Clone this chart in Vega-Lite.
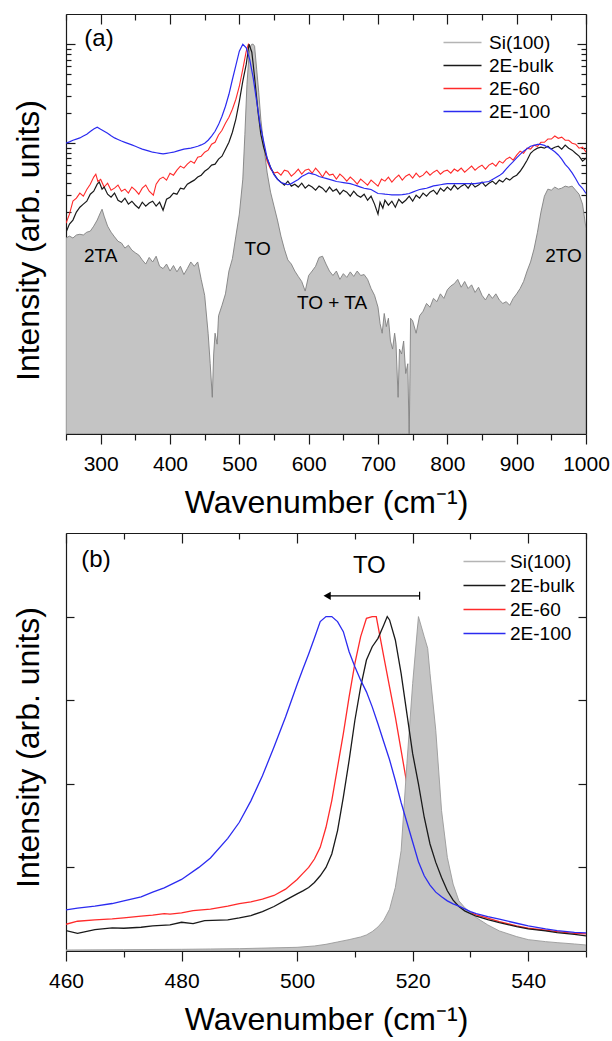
{
"$schema":"https://vega.github.io/schema/vega-lite/v6.json",
"background":"white",
"padding":{"left":12,"top":13,"right":5,"bottom":5},
"spacing":14,
"config":{
 "font":"Liberation Sans",
 "view":{"stroke":null},
 "mark":{"invalid":"filter"},
 "axis":{"grid":false,"zindex":1,"domainColor":"#1a1a1a","tickColor":"#1a1a1a","domainWidth":1.2,"tickWidth":1.2,"labelFont":"Liberation Sans","labelFontSize":21,"labelColor":"#000","titleFont":"Liberation Sans","titleFontSize":32,"titleFontWeight":"normal","titleColor":"#000"},
 "text":{"font":"Liberation Sans","color":"#000"}
},
"datasets":{
"a":[
{"x":250,"Si(100)":0.011,"2E-bulk":0.0126,"2E-60":0.0155,"2E-100":0.1},
{"x":255,"Si(100)":0.0115,"2E-bulk":0.0152,"2E-60":0.0192,"2E-100":0.103},
{"x":260,"Si(100)":0.011,"2E-bulk":0.0167,"2E-60":0.026,"2E-100":0.107},
{"x":265,"Si(100)":0.0118,"2E-bulk":0.0201,"2E-60":0.0278,"2E-100":0.11},
{"x":270,"Si(100)":0.012,"2E-bulk":0.0225,"2E-60":0.0313,"2E-100":0.113},
{"x":275,"Si(100)":0.0118,"2E-bulk":0.0242,"2E-60":0.0291,"2E-100":0.118},
{"x":280,"Si(100)":0.0126,"2E-bulk":0.0259,"2E-60":0.034,"2E-100":0.123},
{"x":285,"Si(100)":0.0129,"2E-bulk":0.0305,"2E-60":0.0385,"2E-100":0.131},
{"x":290,"Si(100)":0.0145,"2E-bulk":0.0327,"2E-60":0.0454,"2E-100":0.139},
{"x":293,"2E-60":0.0486},
{"x":295,"Si(100)":0.0167,"2E-bulk":0.0385,"2E-100":0.145},
{"x":296,"2E-60":0.041},
{"x":298,"2E-bulk":0.0404},
{"x":300,"Si(100)":0.0201,"2E-60":0.043,"2E-100":0.138},
{"x":302,"Si(100)":0.0215,"2E-bulk":0.0343},
{"x":305,"Si(100)":0.0183,"2E-bulk":0.036,"2E-60":0.036,"2E-100":0.132},
{"x":310,"Si(100)":0.0145,"2E-bulk":0.0305,"2E-60":0.0394,"2E-100":0.126},
{"x":315,"Si(100)":0.0126,"2E-bulk":0.0284,"2E-60":0.0335,"2E-100":0.119},
{"x":320,"Si(100)":0.0113,"2E-bulk":0.0313,"2E-60":0.0351,"2E-100":0.113},
{"x":325,"Si(100)":0.0102,"2E-bulk":0.0265,"2E-60":0.0377,"2E-100":0.109},
{"x":330,"Si(100)":0.0098,"2E-bulk":0.0253,"2E-60":0.0327,"2E-100":0.105},
{"x":335,"Si(100)":0.0087,"2E-bulk":0.0278,"2E-60":0.0343,"2E-100":0.102},
{"x":340,"Si(100)":0.0093,"2E-bulk":0.0242,"2E-60":0.0313,"2E-100":0.099},
{"x":345,"Si(100)":0.0083,"2E-bulk":0.0259,"2E-60":0.036,"2E-100":0.096},
{"x":350,"Si(100)":0.0078,"2E-bulk":0.0236,"2E-60":0.0335,"2E-100":0.093},
{"x":355,"Si(100)":0.0074,"2E-bulk":0.022,"2E-60":0.0305,"2E-100":0.09},
{"x":360,"Si(100)":0.0066,"2E-bulk":0.0253,"2E-60":0.0351,"2E-100":0.087},
{"x":365,"Si(100)":0.006,"2E-bulk":0.0231,"2E-60":0.0377,"2E-100":0.085},
{"x":370,"Si(100)":0.007,"2E-bulk":0.0248,"2E-60":0.0327,"2E-100":0.083},
{"x":375,"Si(100)":0.0063,"2E-bulk":0.0259,"2E-100":0.081},
{"x":376,"2E-60":0.0298},
{"x":380,"Si(100)":0.0072,"2E-bulk":0.0231,"2E-60":0.0385,"2E-100":0.08},
{"x":385,"Si(100)":0.0057,"2E-bulk":0.0253,"2E-60":0.0433,"2E-100":0.079},
{"x":390,"Si(100)":0.0054,"2E-bulk":0.021,"2E-60":0.0454,"2E-100":0.078},
{"x":395,"Si(100)":0.006,"2E-bulk":0.0271,"2E-60":0.0423,"2E-100":0.079},
{"x":400,"Si(100)":0.0051,"2E-bulk":0.0284,"2E-60":0.0497,"2E-100":0.08},
{"x":405,"Si(100)":0.0058,"2E-bulk":0.0313,"2E-60":0.0475,"2E-100":0.081},
{"x":410,"Si(100)":0.005,"2E-bulk":0.0305,"2E-60":0.0534,"2E-100":0.083},
{"x":415,"Si(100)":0.0057,"2E-bulk":0.0351,"2E-60":0.0586,"2E-100":0.085},
{"x":420,"Si(100)":0.0047,"2E-bulk":0.0343,"2E-60":0.0559,"2E-100":0.087},
{"x":425,"Si(100)":0.0054,"2E-bulk":0.0385,"2E-60":0.0613,"2E-100":0.088},
{"x":430,"Si(100)":0.0063,"2E-bulk":0.0404,"2E-60":0.0658,"2E-100":0.089},
{"x":435,"Si(100)":0.0057,"2E-bulk":0.0423,"2E-60":0.0628,"2E-100":0.091},
{"x":440,"Si(100)":0.0063,"2E-bulk":0.0454,"2E-60":0.0722,"2E-100":0.093},
{"x":445,"Si(100)":0.0042,"2E-bulk":0.0475,"2E-60":0.0739,"2E-100":0.096},
{"x":450,"Si(100)":0.0029,"2E-bulk":0.052,"2E-60":0.0811,"2E-100":0.1},
{"x":455,"Si(100)":0.0012,"2E-bulk":0.055,"2E-60":0.085,"2E-100":0.107},
{"x":458,"Si(100)":0.00059},
{"x":460,"2E-bulk":0.06,"2E-60":0.0977,"2E-100":0.118},
{"x":461,"Si(100)":0.00027},
{"x":463,"Si(100)":0.00074},
{"x":465,"Si(100)":0.0012,"2E-bulk":0.0613,"2E-60":0.102,"2E-100":0.132},
{"x":468,"Si(100)":0.00093},
{"x":470,"Si(100)":0.0018,"2E-bulk":0.069,"2E-60":0.121,"2E-100":0.154},
{"x":475,"Si(100)":0.0023,"2E-bulk":0.0739,"2E-60":0.135,"2E-100":0.187},
{"x":480,"Si(100)":0.003,"2E-bulk":0.087,"2E-60":0.159,"2E-100":0.236},
{"x":485,"Si(100)":0.0051,"2E-bulk":0.102,"2E-60":0.183,"2E-100":0.312},
{"x":490,"Si(100)":0.0068,"2E-bulk":0.129,"2E-60":0.22,"2E-100":0.44},
{"x":495,"Si(100)":0.0115,"2E-bulk":0.175,"2E-60":0.278,"2E-100":0.61},
{"x":500,"Si(100)":0.0192,"2E-bulk":0.265,"2E-60":0.376,"2E-100":0.85},
{"x":505,"Si(100)":0.0433,"2E-bulk":0.423,"2E-60":0.559,"2E-100":1.0},
{"x":508,"Si(100)":0.123},
{"x":510,"2E-bulk":0.628,"2E-60":0.85,"2E-100":0.918},
{"x":511,"Si(100)":0.394},
{"x":513,"2E-60":1.0},
{"x":514,"Si(100)":0.79,"2E-bulk":1.0},
{"x":515,"2E-100":0.7},
{"x":516,"Si(100)":0.954,"2E-60":0.933},
{"x":518,"Si(100)":1.0,"2E-bulk":0.83},
{"x":520,"Si(100)":1.0,"2E-bulk":0.628,"2E-60":0.673,"2E-100":0.456},
{"x":522,"Si(100)":0.954},
{"x":523,"2E-bulk":0.394},
{"x":525,"Si(100)":0.56,"2E-60":0.335,"2E-100":0.265},
{"x":527,"2E-bulk":0.206},
{"x":528,"Si(100)":0.327},
{"x":530,"2E-60":0.167,"2E-100":0.154},
{"x":531,"Si(100)":0.175,"2E-bulk":0.123},
{"x":535,"Si(100)":0.098,"2E-bulk":0.091,"2E-60":0.093,"2E-100":0.105},
{"x":540,"Si(100)":0.051,"2E-bulk":0.0706,"2E-60":0.066,"2E-100":0.071},
{"x":545,"Si(100)":0.032,"2E-bulk":0.0572,"2E-60":0.055,"2E-100":0.057},
{"x":550,"Si(100)":0.0231,"2E-bulk":0.0486,"2E-60":0.05,"2E-100":0.048},
{"x":555,"Si(100)":0.0167,"2E-bulk":0.0433,"2E-60":0.0509,"2E-100":0.043},
{"x":560,"Si(100)":0.0115,"2E-bulk":0.0404,"2E-60":0.0475,"2E-100":0.04},
{"x":565,"Si(100)":0.0085,"2E-bulk":0.0377,"2E-60":0.0534,"2E-100":0.039},
{"x":570,"Si(100)":0.0066,"2E-bulk":0.0413,"2E-60":0.052,"2E-100":0.038},
{"x":575,"Si(100)":0.006,"2E-bulk":0.0368,"2E-60":0.0464,"2E-100":0.039},
{"x":580,"Si(100)":0.0051,"2E-bulk":0.0385,"2E-60":0.0497,"2E-100":0.041},
{"x":585,"Si(100)":0.0045,"2E-bulk":0.036,"2E-60":0.0547,"2E-100":0.043},
{"x":590,"Si(100)":0.004,"2E-bulk":0.0394,"2E-60":0.0486,"2E-100":0.046},
{"x":595,"Si(100)":0.0032,"2E-bulk":0.0351,"2E-60":0.0534,"2E-100":0.048},
{"x":600,"Si(100)":0.0046,"2E-bulk":0.0377,"2E-60":0.0547,"2E-100":0.05},
{"x":605,"Si(100)":0.0051,"2E-bulk":0.036,"2E-60":0.0497,"2E-100":0.049},
{"x":610,"Si(100)":0.0057,"2E-bulk":0.0335,"2E-60":0.0559,"2E-100":0.048},
{"x":615,"Si(100)":0.007,"2E-bulk":0.0368,"2E-60":0.0509,"2E-100":0.046},
{"x":620,"Si(100)":0.0072,"2E-bulk":0.0351,"2E-60":0.0454,"2E-100":0.045},
{"x":625,"Si(100)":0.006,"2E-bulk":0.032,"2E-60":0.052,"2E-100":0.044},
{"x":630,"Si(100)":0.0051,"2E-bulk":0.036,"2E-60":0.0475,"2E-100":0.043},
{"x":635,"Si(100)":0.0046,"2E-bulk":0.0327,"2E-60":0.0486,"2E-100":0.042},
{"x":640,"Si(100)":0.0051,"2E-bulk":0.0343,"2E-60":0.0433,"2E-100":0.041},
{"x":645,"Si(100)":0.0042,"2E-bulk":0.0305,"2E-60":0.0486,"2E-100":0.0405},
{"x":650,"Si(100)":0.0048,"2E-bulk":0.0335,"2E-60":0.0454,"2E-100":0.04},
{"x":655,"Si(100)":0.0044,"2E-bulk":0.032,"2E-60":0.0413,"2E-100":0.0395},
{"x":660,"Si(100)":0.005,"2E-bulk":0.0291,"2E-60":0.0454,"2E-100":0.039},
{"x":665,"Si(100)":0.0045,"2E-bulk":0.0327,"2E-60":0.0423,"2E-100":0.038},
{"x":670,"Si(100)":0.0051,"2E-bulk":0.0298,"2E-60":0.0385,"2E-100":0.037},
{"x":675,"Si(100)":0.0046,"2E-bulk":0.0284,"2E-60":0.0433,"2E-100":0.036},
{"x":680,"Si(100)":0.0047,"2E-bulk":0.0305,"2E-60":0.0404,"2E-100":0.035},
{"x":685,"Si(100)":0.0042,"2E-bulk":0.0265,"2E-60":0.0377,"2E-100":0.0345},
{"x":690,"Si(100)":0.0034,"2E-bulk":0.0291,"2E-60":0.0423,"2E-100":0.034},
{"x":695,"Si(100)":0.0029,"2E-bulk":0.0242,"2E-60":0.0394,"2E-100":0.0325},
{"x":700,"Si(100)":0.0022,"2E-bulk":0.0192,"2E-60":0.0368,"2E-100":0.031},
{"x":703,"Si(100)":0.0015,"2E-bulk":0.0253},
{"x":705,"2E-60":0.0433,"2E-100":0.0308},
{"x":706,"Si(100)":0.0012},
{"x":707,"2E-bulk":0.022},
{"x":709,"Si(100)":0.0019},
{"x":710,"2E-bulk":0.0265,"2E-60":0.0413,"2E-100":0.0305},
{"x":712,"Si(100)":0.0014},
{"x":715,"Si(100)":0.0017,"2E-bulk":0.0236,"2E-60":0.0454,"2E-100":0.0303},
{"x":718,"Si(100)":0.001},
{"x":720,"2E-bulk":0.0259,"2E-60":0.0404,"2E-100":0.03},
{"x":721,"Si(100)":0.00083},
{"x":724,"Si(100)":0.0012},
{"x":725,"2E-bulk":0.0225,"2E-60":0.0443,"2E-100":0.03},
{"x":726,"Si(100)":0.00093},
{"x":729,"Si(100)":0.00027},
{"x":730,"2E-bulk":0.0271,"2E-60":0.0475,"2E-100":0.03},
{"x":731,"Si(100)":0.00083},
{"x":734,"Si(100)":0.00074},
{"x":735,"2E-bulk":0.0248,"2E-60":0.0423,"2E-100":0.0302},
{"x":737,"Si(100)":0.001},
{"x":740,"Si(100)":0.00047,"2E-bulk":0.0265,"2E-60":0.0464,"2E-100":0.0305},
{"x":743,"Si(100)":0.00059},
{"x":745,"Si(100)":0.0001,"2E-bulk":0.0291,"2E-60":0.0486,"2E-100":0.031},
{"x":747,"Si(100)":0.0017},
{"x":750,"Si(100)":0.0016,"2E-bulk":0.0259,"2E-60":0.0443,"2E-100":0.032},
{"x":755,"Si(100)":0.0012,"2E-bulk":0.0298,"2E-60":0.0497,"2E-100":0.033},
{"x":760,"Si(100)":0.0018,"2E-bulk":0.0278,"2E-60":0.0454,"2E-100":0.034},
{"x":765,"Si(100)":0.002,"2E-bulk":0.0313,"2E-60":0.0475,"2E-100":0.0345},
{"x":770,"Si(100)":0.0024,"2E-bulk":0.0291,"2E-60":0.052,"2E-100":0.035},
{"x":775,"Si(100)":0.0022,"2E-bulk":0.032,"2E-60":0.0475,"2E-100":0.036},
{"x":780,"Si(100)":0.0027,"2E-bulk":0.0335,"2E-60":0.0509,"2E-100":0.037},
{"x":785,"Si(100)":0.0025,"2E-bulk":0.0305,"2E-60":0.0534,"2E-100":0.0375},
{"x":790,"Si(100)":0.003,"2E-bulk":0.0351,"2E-60":0.0486,"2E-100":0.038},
{"x":795,"Si(100)":0.0027,"2E-bulk":0.0327,"2E-60":0.052,"2E-100":0.0385},
{"x":800,"Si(100)":0.0033,"2E-bulk":0.036,"2E-60":0.0534,"2E-100":0.039},
{"x":805,"Si(100)":0.0036,"2E-bulk":0.0335,"2E-60":0.0497,"2E-100":0.039},
{"x":810,"Si(100)":0.0038,"2E-bulk":0.0377,"2E-60":0.0547,"2E-100":0.039},
{"x":815,"Si(100)":0.0042,"2E-bulk":0.0343,"2E-60":0.052,"2E-100":0.039},
{"x":820,"Si(100)":0.0035,"2E-bulk":0.0368,"2E-60":0.0559,"2E-100":0.039},
{"x":825,"Si(100)":0.004,"2E-bulk":0.0385,"2E-60":0.0509,"2E-100":0.039},
{"x":830,"Si(100)":0.0034,"2E-bulk":0.0351,"2E-60":0.0547,"2E-100":0.039},
{"x":835,"Si(100)":0.0037,"2E-bulk":0.0394,"2E-60":0.0586,"2E-100":0.039},
{"x":840,"Si(100)":0.0031,"2E-bulk":0.036,"2E-60":0.0534,"2E-100":0.039},
{"x":845,"Si(100)":0.0035,"2E-bulk":0.0377,"2E-60":0.0572,"2E-100":0.0395},
{"x":850,"Si(100)":0.0029,"2E-bulk":0.0404,"2E-60":0.06,"2E-100":0.04},
{"x":855,"Si(100)":0.0026,"2E-bulk":0.0368,"2E-60":0.0547,"2E-100":0.0405},
{"x":860,"Si(100)":0.003,"2E-bulk":0.0394,"2E-60":0.06,"2E-100":0.041},
{"x":865,"Si(100)":0.0027,"2E-bulk":0.0413,"2E-60":0.0628,"2E-100":0.043},
{"x":870,"Si(100)":0.003,"2E-bulk":0.0385,"2E-60":0.0586,"2E-100":0.045},
{"x":875,"Si(100)":0.0026,"2E-bulk":0.0423,"2E-60":0.0658,"2E-100":0.047},
{"x":880,"Si(100)":0.0024,"2E-bulk":0.0404,"2E-60":0.0628,"2E-100":0.05},
{"x":885,"Si(100)":0.0025,"2E-bulk":0.0443,"2E-60":0.069,"2E-100":0.055},
{"x":890,"Si(100)":0.0023,"2E-bulk":0.0423,"2E-60":0.0722,"2E-100":0.06},
{"x":895,"Si(100)":0.0027,"2E-bulk":0.0454,"2E-60":0.0673,"2E-100":0.065},
{"x":900,"Si(100)":0.003,"2E-bulk":0.0475,"2E-60":0.0757,"2E-100":0.071},
{"x":905,"Si(100)":0.0034,"2E-bulk":0.052,"2E-60":0.083,"2E-100":0.077},
{"x":910,"Si(100)":0.004,"2E-bulk":0.0586,"2E-60":0.079,"2E-100":0.083},
{"x":915,"Si(100)":0.0051,"2E-bulk":0.0673,"2E-60":0.089,"2E-100":0.088},
{"x":920,"Si(100)":0.0063,"2E-bulk":0.079,"2E-60":0.087,"2E-100":0.093},
{"x":925,"Si(100)":0.0085,"2E-bulk":0.085,"2E-60":0.0955,"2E-100":0.095},
{"x":930,"Si(100)":0.0126,"2E-bulk":0.089,"2E-60":0.093,"2E-100":0.097},
{"x":935,"Si(100)":0.0201,"2E-bulk":0.091,"2E-60":0.102,"2E-100":0.097},
{"x":940,"Si(100)":0.0291,"2E-bulk":0.089,"2E-60":0.102,"2E-100":0.095},
{"x":945,"Si(100)":0.0343,"2E-bulk":0.093,"2E-60":0.11,"2E-100":0.091},
{"x":950,"Si(100)":0.0335,"2E-bulk":0.087,"2E-60":0.11,"2E-100":0.087},
{"x":955,"Si(100)":0.036,"2E-bulk":0.091,"2E-60":0.118,"2E-100":0.082},
{"x":960,"Si(100)":0.0343,"2E-bulk":0.093,"2E-60":0.112,"2E-100":0.076},
{"x":965,"Si(100)":0.0351,"2E-bulk":0.087,"2E-60":0.115,"2E-100":0.069},
{"x":970,"Si(100)":0.0368,"2E-bulk":0.0955,"2E-60":0.107,"2E-100":0.061},
{"x":975,"Si(100)":0.036,"2E-bulk":0.089,"2E-60":0.107,"2E-100":0.056},
{"x":980,"Si(100)":0.0368,"2E-bulk":0.085,"2E-60":0.1,"2E-100":0.05},
{"x":985,"Si(100)":0.0335,"2E-bulk":0.079,"2E-60":0.0977,"2E-100":0.044},
{"x":990,"Si(100)":0.0305,"2E-bulk":0.0739,"2E-60":0.089,"2E-100":0.038},
{"x":995,"Si(100)":0.0242,"2E-bulk":0.0658,"2E-60":0.0911,"2E-100":0.035},
{"x":1000,"Si(100)":0.0138,"2E-bulk":0.0706,"2E-60":0.0811,"2E-100":0.031}
],
"b":[
{"x":460,"Si(100)":0.003,"2E-bulk":0.061,"2E-60":0.08,"2E-100":0.123},
{"x":462,"2E-bulk":0.053,"2E-60":0.089,"2E-100":0.128},
{"x":465,"2E-bulk":0.064,"2E-60":0.093,"2E-100":0.134},
{"x":468,"2E-bulk":0.069,"2E-60":0.096,"2E-100":0.142},
{"x":470,"Si(100)":0.004,"2E-bulk":0.068,"2E-60":0.099,"2E-100":0.15},
{"x":473,"2E-bulk":0.071,"2E-60":0.104,"2E-100":0.162},
{"x":475,"2E-bulk":0.075,"2E-60":0.107,"2E-100":0.176},
{"x":477,"2E-60":0.112,"2E-100":0.189},
{"x":478,"2E-bulk":0.078,"2E-60":0.11},
{"x":480,"Si(100)":0.005,"2E-bulk":0.086,"2E-60":0.114,"2E-100":0.214},
{"x":482,"2E-bulk":0.082,"2E-60":0.121},
{"x":483,"2E-100":0.25},
{"x":484,"2E-bulk":0.091},
{"x":485,"Si(100)":0.006,"2E-60":0.125,"2E-100":0.278},
{"x":488,"2E-bulk":0.093,"2E-60":0.134,"2E-100":0.337},
{"x":490,"Si(100)":0.007,"2E-bulk":0.099,"2E-60":0.142,"2E-100":0.385},
{"x":492,"2E-bulk":0.106,"2E-60":0.147,"2E-100":0.449},
{"x":494,"2E-bulk":0.118,"2E-60":0.155,"2E-100":0.524},
{"x":496,"2E-bulk":0.133,"2E-60":0.166,"2E-100":0.61},
{"x":498,"2E-bulk":0.152,"2E-60":0.185,"2E-100":0.7},
{"x":500,"Si(100)":0.011,"2E-bulk":0.171,"2E-60":0.214,"2E-100":0.797},
{"x":501,"2E-bulk":0.18,"2E-60":0.232,"2E-100":0.843},
{"x":502,"2E-bulk":0.19,"2E-60":0.25,"2E-100":0.888},
{"x":503,"Si(100)":0.015,"2E-bulk":0.205,"2E-60":0.275,"2E-100":0.936},
{"x":504,"2E-bulk":0.225,"2E-60":0.31,"2E-100":0.985},
{"x":505,"Si(100)":0.02,"2E-bulk":0.25,"2E-60":0.37,"2E-100":1.0},
{"x":506,"2E-bulk":0.29,"2E-60":0.45,"2E-100":1.0},
{"x":507,"Si(100)":0.027,"2E-bulk":0.36,"2E-60":0.55,"2E-100":0.985},
{"x":508,"2E-bulk":0.46,"2E-60":0.65,"2E-100":0.955},
{"x":509,"Si(100)":0.034,"2E-bulk":0.57,"2E-60":0.76,"2E-100":0.895},
{"x":510,"Si(100)":0.038,"2E-bulk":0.69,"2E-60":0.86,"2E-100":0.85},
{"x":511,"Si(100)":0.042,"2E-bulk":0.79,"2E-60":0.94,"2E-100":0.81},
{"x":512,"Si(100)":0.048,"2E-bulk":0.87,"2E-60":0.995,"2E-100":0.775},
{"x":513,"Si(100)":0.058,"2E-bulk":0.91,"2E-60":1.0,"2E-100":0.73},
{"x":513.7,"2E-60":1.0},
{"x":514,"Si(100)":0.072,"2E-bulk":0.935,"2E-100":0.679},
{"x":515,"Si(100)":0.092,"2E-bulk":0.975,"2E-60":0.88,"2E-100":0.625},
{"x":515.6,"2E-bulk":1.0},
{"x":516,"Si(100)":0.125,"2E-bulk":0.99,"2E-60":0.79,"2E-100":0.572},
{"x":517,"Si(100)":0.19,"2E-bulk":0.93,"2E-60":0.7,"2E-100":0.51},
{"x":518,"Si(100)":0.3,"2E-bulk":0.83,"2E-60":0.6,"2E-100":0.444},
{"x":519,"Si(100)":0.56,"2E-bulk":0.71,"2E-60":0.5,"2E-100":0.385},
{"x":520,"Si(100)":0.8,"2E-bulk":0.59,"2E-60":0.41,"2E-100":0.326},
{"x":521,"Si(100)":1.0,"2E-bulk":0.5,"2E-60":0.33,"2E-100":0.267},
{"x":522,"Si(100)":0.94,"2E-bulk":0.4,"2E-60":0.27,"2E-100":0.225},
{"x":522.6,"Si(100)":0.905},
{"x":523,"Si(100)":0.83,"2E-bulk":0.32,"2E-60":0.225,"2E-100":0.197},
{"x":524,"Si(100)":0.66,"2E-bulk":0.265,"2E-60":0.19,"2E-100":0.176},
{"x":525,"Si(100)":0.42,"2E-bulk":0.22,"2E-60":0.167,"2E-100":0.162},
{"x":526,"Si(100)":0.28,"2E-bulk":0.18,"2E-60":0.15,"2E-100":0.15},
{"x":527,"Si(100)":0.2,"2E-bulk":0.152,"2E-60":0.138,"2E-100":0.141},
{"x":528,"Si(100)":0.15,"2E-bulk":0.133,"2E-60":0.128,"2E-100":0.134},
{"x":529,"Si(100)":0.13,"2E-bulk":0.12,"2E-60":0.121,"2E-100":0.126},
{"x":530,"Si(100)":0.115,"2E-bulk":0.112,"2E-60":0.115,"2E-100":0.118},
{"x":531,"Si(100)":0.1,"2E-bulk":0.104,"2E-60":0.108,"2E-100":0.112},
{"x":533,"Si(100)":0.078,"2E-bulk":0.094,"2E-60":0.098,"2E-100":0.103},
{"x":535,"Si(100)":0.06,"2E-bulk":0.085,"2E-60":0.088,"2E-100":0.095},
{"x":538,"Si(100)":0.043,"2E-bulk":0.073,"2E-60":0.075,"2E-100":0.083},
{"x":540,"Si(100)":0.034,"2E-bulk":0.066,"2E-60":0.068,"2E-100":0.075},
{"x":543,"Si(100)":0.028,"2E-bulk":0.06,"2E-60":0.062,"2E-100":0.066},
{"x":545,"Si(100)":0.025,"2E-bulk":0.055,"2E-60":0.058,"2E-100":0.061},
{"x":548,"Si(100)":0.021,"2E-bulk":0.05,"2E-60":0.053,"2E-100":0.056},
{"x":550,"Si(100)":0.018,"2E-bulk":0.045,"2E-60":0.051,"2E-100":0.054}
],
"ta":[
{"x":300,"y":0.0073,"t":"2TA"},
{"x":526.4,"y":0.0085,"t":"TO"},
{"x":633.7,"y":0.00245,"t":"TO + TA"},
{"x":967.6,"y":0.0073,"t":"2TO"}
],
"la":[{"x":297.6,"y":1.12,"t":"(a)"}],
"tb":[{"x":465.2,"y":1.168,"t":"(b)"},{"x":512.5,"y":1.151,"t":"TO"}],
"arrow":[{"x":521.2,"x2":505.2,"y":1.062}]
},
"resolve":{"scale":{"x":"independent","y":"independent","color":"independent"},"legend":{"color":"independent"}},
"vconcat":[
{
 "width":520,"height":420,
 "resolve":{"axis":{"x":"independent","y":"independent"}},
 "layer":[
  {"data":{"name":"a"},
   "mark":{"type":"line","stroke":"#ff2a2a","strokeWidth":1.1,"clip":true},
   "encoding":{
    "x":{"field":"x","type":"quantitative","scale":{"domain":[250,1000],"nice":false,"zero":false},
         "axis":{"orient":"bottom","values":[300,400,500,600,700,800,900,1000],"format":"d","tickSize":10,"labelPadding":9,"labelFlush":false,"labelOverlap":false,"title":"Wavenumber (cm⁻¹)","titlePadding":13}},
    "y":{"field":"2E-60","type":"quantitative","scale":{"type":"log","domain":[0.000115,2.02],"nice":false},
         "axis":{"orient":"left","values":[1,0.1],"tickSize":-9,"labels":false,"title":"Intensity (arb. units)","titlePadding":20,"titleY":226}}}},
  {"data":{"name":"a"},
   "mark":{"type":"area","fill":"#c4c4c4","stroke":"#808080","strokeWidth":0.9,"clip":true},
   "encoding":{
    "x":{"field":"x","type":"quantitative","axis":{"orient":"bottom","values":[250,350,450,550,650,750,850,950],"tickSize":6,"labels":false,"domain":false,"title":null}},
    "y":{"field":"Si(100)","type":"quantitative","axis":{"orient":"left","values":[0.9,0.8,0.7,0.6,0.5,0.4,0.3,0.2,0.09,0.08,0.07,0.06,0.05,0.04,0.03,0.02],"tickSize":-5,"labels":false,"domain":false,"title":null}},
    "y2":{"datum":0.000115}}},
  {"data":{"name":"a"},
   "transform":[{"fold":["2E-bulk","2E-100"],"as":["s","v"]}],
   "mark":{"type":"line","strokeWidth":1.2,"clip":true},
   "encoding":{
    "x":{"field":"x","type":"quantitative","axis":{"orient":"top","values":[300,400,500,600,700,800,900,1000],"tickSize":-10,"labels":false,"title":null}},
    "y":{"field":"v","type":"quantitative","axis":{"orient":"right","values":[1,0.1],"tickSize":-9,"labels":false,"title":null}},
    "color":{"field":"s","type":"nominal","scale":{"domain":["Si(100)","2E-bulk","2E-60","2E-100"],"range":["#b4b4b4","#1a1a1a","#ff2a2a","#2b2bf0"]},
      "legend":{"orient":"none","legendX":387,"legendY":19,"title":null,"symbolType":"M-3.8,0H3.8","symbolSize":100,"symbolStrokeWidth":1.3,"labelFontSize":19,"labelFont":"Liberation Sans","labelColor":"#000","labelOffset":17,"rowPadding":3,"padding":0}}}},
  {"data":{"name":"ta"},
   "mark":{"type":"text","fontSize":19,"align":"center","baseline":"middle"},
   "encoding":{
    "x":{"field":"x","type":"quantitative","axis":{"orient":"top","values":[250,350,450,550,650,750,850,950],"tickSize":-6,"labels":false,"domain":false,"title":null}},
    "y":{"field":"y","type":"quantitative","axis":{"orient":"right","values":[0.9,0.8,0.7,0.6,0.5,0.4,0.3,0.2,0.09,0.08,0.07,0.06,0.05,0.04,0.03,0.02],"tickSize":-5,"labels":false,"domain":false,"title":null}},
    "text":{"field":"t"}}},
  {"data":{"name":"la"},
   "mark":{"type":"text","fontSize":24,"align":"center","baseline":"middle"},
   "encoding":{
    "x":{"field":"x","type":"quantitative","axis":null},
    "y":{"field":"y","type":"quantitative","axis":null},
    "text":{"field":"t"}}}
 ]
},
{
 "width":520,"height":418,
 "resolve":{"axis":{"x":"independent","y":"independent"}},
 "layer":[
  {"data":{"name":"b"},
   "mark":{"type":"line","stroke":"#ff2a2a","strokeWidth":1.3,"clip":true},
   "encoding":{
    "x":{"field":"x","type":"quantitative","scale":{"domain":[460,550],"nice":false,"zero":false},
         "axis":{"orient":"bottom","values":[460,480,500,520,540],"format":"d","tickSize":10,"labelPadding":9,"labelFlush":false,"labelOverlap":false,"title":"Wavenumber (cm⁻¹)","titlePadding":13}},
    "y":{"field":"2E-60","type":"quantitative","scale":{"domain":[0,1.25],"nice":false,"zero":false},
         "axis":{"orient":"left","values":[0.25,0.5,0.75,1],"tickSize":-8,"labels":false,"title":"Intensity (arb. units)","titlePadding":20,"titleY":214}}}},
  {"data":{"name":"b"},
   "mark":{"type":"area","fill":"#c4c4c4","stroke":"#9a9a9a","strokeWidth":0.9,"clip":true},
   "encoding":{
    "x":{"field":"x","type":"quantitative","axis":{"orient":"bottom","values":[470,490,510,530,550],"tickSize":6,"labels":false,"domain":false,"title":null}},
    "y":{"field":"Si(100)","type":"quantitative","axis":null}}},
  {"data":{"name":"b"},
   "transform":[{"fold":["2E-bulk","2E-100"],"as":["s","v"]}],
   "mark":{"type":"line","strokeWidth":1.3,"clip":true},
   "encoding":{
    "x":{"field":"x","type":"quantitative","axis":{"orient":"top","values":[460,480,500,520,540],"tickSize":-10,"labels":false,"title":null}},
    "y":{"field":"v","type":"quantitative","axis":{"orient":"right","values":[0.25,0.5,0.75,1],"tickSize":-8,"labels":false,"title":null}},
    "color":{"field":"s","type":"nominal","scale":{"domain":["Si(100)","2E-bulk","2E-60","2E-100"],"range":["#b4b4b4","#1a1a1a","#ff2a2a","#2b2bf0"]},
      "legend":{"orient":"none","legendX":409,"legendY":19,"title":null,"symbolType":"M-4.2,0H4.2","symbolSize":100,"symbolStrokeWidth":1.3,"labelFontSize":19,"labelFont":"Liberation Sans","labelColor":"#000","labelOffset":16,"rowPadding":4,"padding":0}}}},
  {"data":{"name":"tb"},
   "mark":{"type":"text","fontSize":24,"align":"center","baseline":"middle"},
   "encoding":{
    "x":{"field":"x","type":"quantitative","axis":{"orient":"top","values":[470,490,510,530,550],"tickSize":-6,"labels":false,"domain":false,"title":null}},
    "y":{"field":"y","type":"quantitative","axis":null},
    "text":{"field":"t"}}},
  {"data":{"name":"arrow"},
   "mark":{"type":"rule","color":"#000","strokeWidth":1.2},
   "encoding":{
    "x":{"field":"x","type":"quantitative","axis":null},
    "x2":{"field":"x2"},
    "y":{"field":"y","type":"quantitative","axis":null}}},
  {"data":{"name":"arrow"},
   "mark":{"type":"point","shape":"triangle-left","filled":true,"color":"#000","size":70,"opacity":1},
   "encoding":{
    "x":{"field":"x2","type":"quantitative","axis":null},
    "y":{"field":"y","type":"quantitative","axis":null}}},
  {"data":{"name":"arrow"},
   "mark":{"type":"point","shape":"M0,-1L0,1","filled":false,"stroke":"#000","strokeWidth":1.2,"size":64,"opacity":1},
   "encoding":{
    "x":{"field":"x","type":"quantitative","axis":null},
    "y":{"field":"y","type":"quantitative","axis":null}}}
 ]
}
]
}
